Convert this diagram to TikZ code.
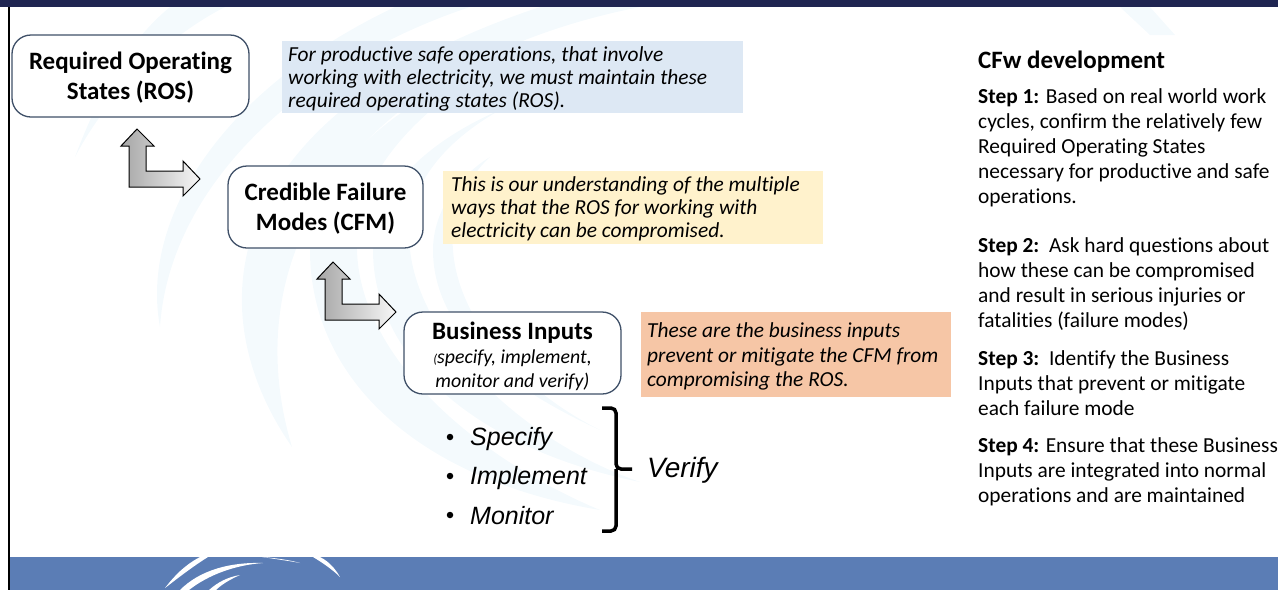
\documentclass[tikz,border=0pt]{standalone}
\usepackage{fontspec}
\setmainfont{Carlito}[Ligatures=NoCommon]
\newfontfamily\arialfont{Liberation Sans}
\usepackage{xcolor}
\definecolor{barnavy}{HTML}{1F2551}
\definecolor{bandblue}{HTML}{5B7DB5}
\definecolor{swoosh}{HTML}{F4FAFD}
\definecolor{boxedge}{HTML}{3F5068}
\definecolor{noteblue}{HTML}{DDE8F4}
\definecolor{noteyellow}{HTML}{FFF2CC}
\definecolor{noteorange}{HTML}{F6C6A6}
\newcommand{\toppad}{\rule{0pt}{21pt}}
\tikzset{
 statebox/.style={draw=boxedge, line width=1.3pt, fill=white, rounded corners=19pt, align=center, inner sep=0pt, font=\fontsize{25}{29.5}\selectfont\bfseries},
 noteback/.style={anchor=north west, inner sep=0pt},
 notetext/.style={anchor=west, align=left, inner sep=0pt, font=\fontsize{21.4}{23}\selectfont\itshape},
 steptext/.style={anchor=north west, align=left, inner sep=0pt, font=\fontsize{21.4}{25.2}\selectfont},
 listtext/.style={anchor=west, inner sep=0pt, font=\arialfont\fontsize{25}{30}\selectfont\itshape},
 listdot/.style={circle, fill=black, inner sep=0pt, minimum size=6.5pt},
 bentarrow/.pic={
  \draw[line width=1pt, left color=black!35, right color=black!3, miter limit=10]
   (0,0) -- (-16,17) -- (-8,17) -- (-8,58) -- (46,58) -- (46,67) -- (63,50)
   -- (46,32) -- (46,42) -- (9,42) -- (9,17) -- (17,17) -- cycle;
 }
}
\begin{document}
\begin{tikzpicture}[x=1pt,y=-1pt]
\useasboundingbox (0,0) rectangle (1278,590);
% background swooshes
\fill[swoosh] (75,157) .. controls (100,90) and (130,40) .. (170,7) -- (225,7) .. controls (170,35) and (110,90) .. (75,157) -- cycle;
\fill[swoosh] (160,327) .. controls (140,220) and (220,90) .. (395,7) -- (470,7) .. controls (310,60) and (170,180) .. (160,327) -- cycle;
\fill[swoosh] (292,447) .. controls (190,300) and (230,110) .. (540,7) -- (640,7) .. controls (370,60) and (230,240) .. (292,447) -- cycle;
\fill[swoosh] (600,510) .. controls (420,480) and (310,380) .. (310,250) .. controls (310,170) and (400,100) .. (500,60) .. controls (420,110) and (355,170) .. (357,250) .. controls (360,360) and (480,460) .. (600,510) -- cycle;
\fill[swoosh] (640,482) .. controls (480,450) and (373,360) .. (373,250) .. controls (373,190) and (430,140) .. (500,110) .. controls (430,150) and (403,200) .. (410,250) .. controls (420,340) and (520,440) .. (640,482) -- cycle;
\fill[swoosh] (600,430) .. controls (490,380) and (433,320) .. (433,250) .. controls (433,210) and (460,175) .. (490,157) .. controls (465,180) and (450,215) .. (453,250) .. controls (458,320) and (520,390) .. (600,430) -- cycle;
\fill[swoosh] (1120,7) -- (1150,7) -- (1175,35) -- (1150,35) -- cycle;
% bars
\fill[bandblue] (10,557) rectangle (1278,590);
\fill[barnavy] (0,0) rectangle (1278,7);
\fill[black] (7.5,7) rectangle (10,590);
% white swooshes in band
\fill[white] (165,588) .. controls (175,575) and (185,565) .. (200,557) -- (208,557) .. controls (192,567) and (178,578) .. (165,588) -- cycle;
\fill[white] (180,590) .. controls (200,570) and (230,562) .. (263,563) .. controls (235,565) and (208,575) .. (189,590) -- cycle;
\fill[white] (209,590) .. controls (218,582) and (228,577) .. (240,575) .. controls (231,579) and (222,584) .. (216,590) -- cycle;
\fill[white] (262,557) .. controls (275,558) and (290,560) .. (300,563) .. controls (290,561) and (275,559) .. (262,557) -- cycle;
\fill[white] (313,557) -- (320,557) .. controls (330,562) and (336,570) .. (340,577) .. controls (333,570) and (323,563) .. (313,557) -- cycle;
% state boxes
\node[statebox, minimum width=237pt, minimum height=82pt] (ros) at (130.5,76) {\toppad Required Operating\\States (ROS)};
\node[statebox, minimum width=195pt, minimum height=82pt] (cfm) at (325.5,207) {\toppad Credible Failure\\Modes (CFM)};
\node[statebox, minimum width=217pt, minimum height=82pt] (inputs) at (512.5,353) {};
\node[font=\fontsize{25}{25}\selectfont\bfseries, inner sep=0pt] (inputstitle) at (512.5,333) {Business Inputs};
\node[font=\fontsize{19.8}{24}\selectfont\itshape, align=center, inner sep=0pt] (inputsnote) at (512.5,370) {{\fontsize{13}{13}\selectfont(}specify, implement,\\monitor and verify)};
% block arrows
\pic at (137,129) {bentarrow};
\pic at (333,262) {bentarrow};
% notes
\node[noteback, fill=noteblue, minimum width=461pt, minimum height=72pt] (rosback) at (282,41) {};
\node[notetext] (rosnote) at (288,79) {For productive safe operations, that involve\\working with electricity, we must maintain these\\required operating states (ROS).};
\node[noteback, fill=noteyellow, minimum width=380pt, minimum height=73pt] (cfmback) at (443,171) {};
\node[notetext] (cfmnote) at (451,209) {This is our understanding of the multiple\\ways that the ROS for working with\\electricity can be compromised.};
\node[noteback, fill=noteorange, minimum width=310pt, minimum height=85pt] (inputsback) at (641,312) {};
\node[notetext, font=\fontsize{21.4}{24.8}\selectfont\itshape] (inputsnotes) at (647,356.5) {These are the business inputs\\prevent or mitigate the CFM from\\compromising the ROS.};
% list and bracket
\node[listdot] (dota) at (450,437) {};
\node[listdot] (dotb) at (450,476) {};
\node[listdot] (dotc) at (450,515) {};
\node[listtext] (specify) at (470,439) {Specify};
\node[listtext] (implement) at (470,478) {Implement};
\node[listtext] (monitor) at (470,516) {Monitor};
\node[listtext, font=\arialfont\fontsize{28}{30}\selectfont\itshape] (verify) at (647,470) {Verify};
\draw[line width=3.5pt, rounded corners=5pt] (602,408) -- (616,408) -- (616,469) -- (632,469);
\draw[line width=3.5pt, rounded corners=5pt] (602,531) -- (616,531) -- (616,469);
% steps
\node[anchor=west, inner sep=0pt, font=\fontsize{25}{28}\selectfont\bfseries] (title) at (978,62) {CFw development};
\node[steptext] (stepa) at (978,88) {\textbf{Step 1:} Based on real world work\\cycles, confirm the relatively few\\Required Operating States\\necessary for productive and safe\\operations.};
\node[steptext] (stepb) at (978,237) {\textbf{Step 2:}\ \ Ask hard questions about\\how these can be compromised\\and result in serious injuries or\\fatalities (failure modes)};
\node[steptext] (stepc) at (978,350) {\textbf{Step 3:}\ \ Identify the Business\\Inputs that prevent or mitigate\\each failure mode};
\node[steptext] (stepd) at (978,437) {\textbf{Step 4:} Ensure that these Business\\Inputs are integrated into normal\\operations and are maintained};
\end{tikzpicture}
\end{document}
